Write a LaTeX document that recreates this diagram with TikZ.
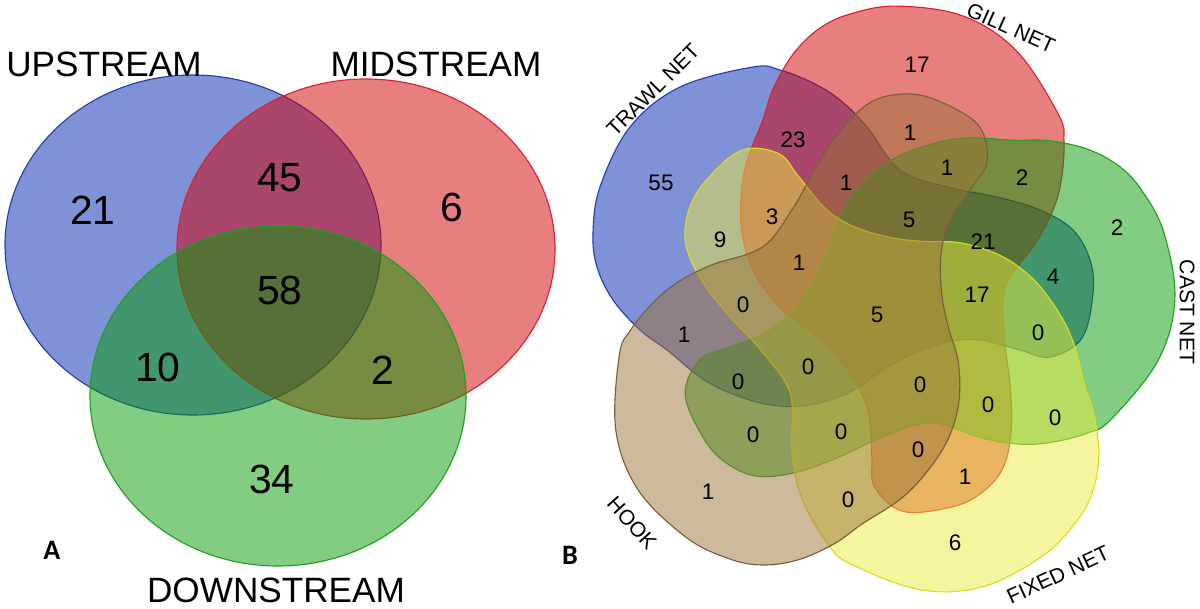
\documentclass[tikz,border=0pt]{standalone}
\usepackage{fontspec}
\setmainfont{Liberation Sans}
\newfontfamily\panelfont{Carlito}
\usetikzlibrary{positioning}
\definecolor{upblue}{RGB}{0,35,175}
\definecolor{upline}{RGB}{40,60,170}
\definecolor{midred}{RGB}{210,0,0}
\definecolor{midline}{RGB}{220,30,50}
\definecolor{downgreen}{RGB}{5,155,5}
\definecolor{downline}{RGB}{30,160,30}
\definecolor{fixedyellow}{RGB}{235,235,65}
\definecolor{fixedline}{RGB}{220,220,30}
\definecolor{hookbrown}{RGB}{155,115,55}
\definecolor{hookline}{RGB}{120,95,60}

\begin{document}
\begin{tikzpicture}[
    x=0.025cm, y=-0.025cm,
    setarea/.style={fill opacity=0.5, line width=0.8pt},
    setname/.style={font=\fontsize{25}{30}\selectfont, inner sep=0pt},
    bigcount/.style={font=\fontsize{29}{34}\selectfont, inner sep=0pt},
    netname/.style={font=\fontsize{15}{18}\selectfont, inner sep=0pt},
    count/.style={font=\fontsize{16}{19}\selectfont, inner sep=0pt},
    panel/.style={font=\panelfont\bfseries\fontsize{20}{24}\selectfont, inner sep=0pt},
]
\useasboundingbox (0,0) rectangle (1200,609);

% Panel A: three river sections
\draw[setarea, fill=upblue, draw=upline] (193,245) ellipse [x radius=188, y radius=170];
\draw[setarea, fill=midred, draw=midline] (366,249) ellipse [x radius=189, y radius=170];
\draw[setarea, fill=downgreen, draw=downline] (278,396) ellipse [x radius=188, y radius=170];

\node[setname] (up) at (104,64) {UPSTREAM};
\node[setname] (mid) at (436,64) {MIDSTREAM};
\node[setname] (down) at (276,590) {DOWNSTREAM};

\node[bigcount] (u21) at (93,210) {21};
\node[bigcount] (um45) at (280,178) {45};
\node[bigcount] (m6) at (452,207) {6};
\node[bigcount] (umd58) at (280,290) {58};
\node[bigcount] (ud10) at (158,367) {10};
\node[bigcount] (md2) at (383,370) {2};
\node[bigcount] (d34) at (272,479) {34};

\node[panel] (pa) at (52,550) {A};
\node[panel] (pb) at (570,555) {B};

% Panel B: five gears, one blob turned by 72 degrees each time
\coordinate (vc) at (873,301);
\begin{scope}[shift={(vc)}]
\foreach \ang/\col/\edge/\nudge in {0/upblue/upline/{0,0}, -72/midred/midline/{0,0},
    -144/downgreen/downline/{3,0}, -216/fixedyellow/fixedline/{16,2}, -288/hookbrown/hookline/{6,12}}{
  \draw[setarea, fill=\col, draw=\edge, shift={(\nudge)}, rotate=\ang, shift={(12,4)}]
    plot[smooth cycle, tension=0.6] coordinates {
    (-132,-238) (-105,-235) (-72,-222) (-45,-205) (-18,-178) (15,-135) (62,-118)
    (112,-108) (155,-95) (188,-75) (205,-45) (208,-12) (197,33) (165,52) (135,45)
    (95,35) (62,37) (25,50) (-5,67) (-35,87) (-75,100) (-115,100) (-155,88)
    (-185,72) (-218,45) (-245,25) (-272,-5) (-288,-38) (-292,-72) (-285,-118)
    (-255,-178) (-205,-218)};
}
\end{scope}

\node[netname, rotate=45] (trawl) at (653,90) {TRAWL NET};
\node[netname, rotate=-24] (gill) at (1011,28) {GILL NET};
\node[netname, rotate=-90] (cast) at (1187,312) {CAST NET};
\node[netname, rotate=25] (fixed) at (1058,575) {FIXED NET};
\node[netname, rotate=-48] (hook) at (632,523) {HOOK};

% counts per region
\node[count] (t55) at (661,183) {55};
\node[count] (tg23) at (793,140) {23};
\node[count] (tf9) at (720,240) {9};
\node[count] (tgf3) at (772,217) {3};
\node[count] (tgh1) at (846,183) {1};
\node[count] (gf1) at (799,263) {1};
\node[count] (g17) at (917,65) {17};
\node[count] (gh1) at (910,133) {1};
\node[count] (gch1) at (947,168) {1};
\node[count] (gc2) at (1022,178) {2};
\node[count] (tgch5) at (909,220) {5};
\node[count] (tgc21) at (983,242) {21};
\node[count] (c2) at (1117,228) {2};
\node[count] (tc4) at (1053,277) {4};
\node[count] (tgcf17) at (977,295) {17};
\node[count] (tcf0) at (1038,333) {0};
\node[count] (all5) at (877,315) {5};
\node[count] (tfh0) at (743,305) {0};
\node[count] (th1) at (684,335) {1};
\node[count] (tch0) at (738,382) {0};
\node[count] (tcfh0) at (808,367) {0};
\node[count] (ch0) at (753,435) {0};
\node[count] (cfh0) at (841,432) {0};
\node[count] (h1) at (708,492) {1};
\node[count] (fh0) at (848,500) {0};
\node[count] (gcfh0) at (920,385) {0};
\node[count] (gcf0) at (988,405) {0};
\node[count] (cf0) at (1055,418) {0};
\node[count] (gfh0) at (918,450) {0};
\node[count] (gf1b) at (965,477) {1};
\node[count] (f6) at (955,543) {6};

\end{tikzpicture}
\end{document}
